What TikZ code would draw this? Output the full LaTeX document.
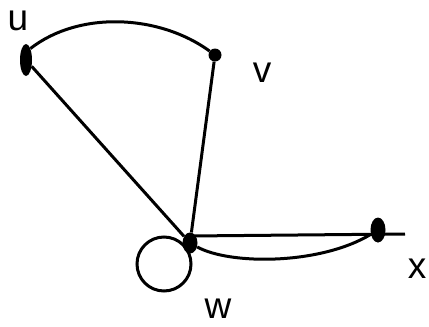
\documentclass[tikz,border=0pt]{standalone}
\usepackage{fontspec}
\setmainfont{Liberation Sans}
\usetikzlibrary{shapes.geometric}
\begin{document}
\begin{tikzpicture}[x=1pt,y=-1pt,
  edge/.style={line width=3pt},
  vdot/.style={ellipse,fill=black,inner sep=0pt},
  lbl/.style={font=\fontsize{37}{37}\selectfont,inner sep=0pt,anchor=base}]
\useasboundingbox (0,0) rectangle (429,327);
\node[vdot,minimum width=12pt,minimum height=32pt] (u) at (26,60) {};
\node[vdot,minimum width=13pt,minimum height=13pt] (v) at (215,55) {};
\node[vdot,minimum width=15pt,minimum height=21pt] (w) at (190,243) {};
\node[vdot,minimum width=15pt,minimum height=25pt] (x) at (378,230) {};
\coordinate (ws) at (190,236);
\coordinate (e) at (405,234);
\node[lbl] (lu) at (18,30) {u};
\node[lbl] (lv) at (262,82) {v};
\node[lbl] (lw) at (218,318) {w};
\node[lbl] (lx) at (417,278) {x};
\draw[edge] (u) -- (w);
\draw[edge] (v) -- (w);
\draw[edge] (u.north east) .. controls (80,10) and (160,15) .. (v);
\draw[edge] (w) .. controls (230,265) and (320,265) .. (x);
\draw[edge] (ws) -- (e);
\draw[edge] (164,264) circle (27);
\end{tikzpicture}
\end{document}
